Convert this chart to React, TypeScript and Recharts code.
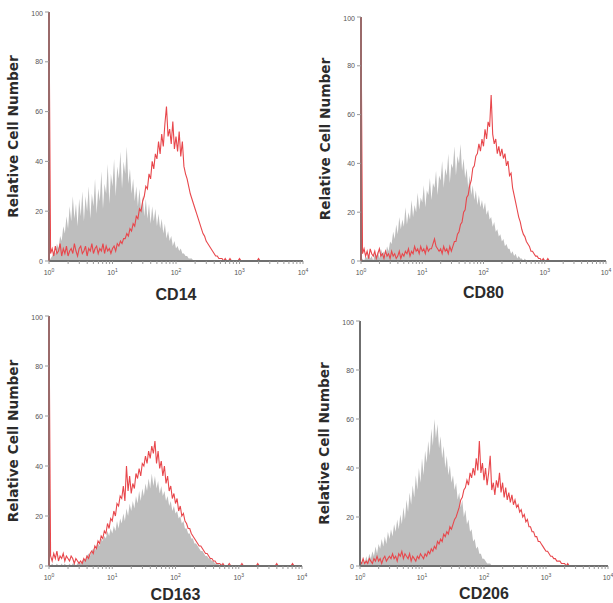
import { Area, ComposedChart, Line, XAxis, YAxis } from "recharts";

// channel positions on the log axis (10^0 .. 10^4, 0.025-decade bins)
const channels: number[] = Array.from({ length: 161 }, (_, i) => +(i * 0.025).toFixed(3));

const majorTicks = [0, 1, 2, 3, 4];
const yTicks = [0, 20, 40, 60, 80, 100];

// isotype control (grey fill) and stained sample (red line); one row = half a decade
const cd14Iso = [
  0, 1, 2, 4, 3, 7, 5, 10, 8, 14, 11, 18, 13, 22, 16, 26, 17, 23, 14, 25,
  18, 28, 16, 26, 20, 30, 17, 27, 22, 33, 19, 29, 24, 36, 21, 31, 27, 39, 23, 35,
  30, 41, 26, 38, 33, 44, 29, 40, 35, 46, 31, 37, 27, 33, 24, 30, 22, 29, 20, 26,
  18, 25, 17, 23, 15, 22, 16, 21, 14, 19, 13, 17, 11, 15, 9, 12, 8, 10, 6, 8,
  5, 6, 4, 5, 3, 3, 2, 2, 1, 1, 1, 0, 0, 0, 0, 0, 0, 0, 0, 0,
  0, 0, 0, 0, 0, 0, 0, 0, 0, 0, 0, 0, 0, 0, 0, 0, 0, 0, 0, 0,
  0, 0, 0, 0, 0, 0, 0, 0, 0, 0, 0, 0, 0, 0, 0, 0, 0, 0, 0, 0,
  0, 0, 0, 0, 0, 0, 0, 0, 0, 0, 0, 0, 0, 0, 0, 0, 0, 0, 0, 0,
  0,
];
const cd14Stain = [
  100, 3, 5, 2, 6, 3, 4, 7, 2, 5, 3, 6, 2, 4, 5, 3, 7, 4, 2, 5,
  6, 3, 4, 6, 2, 5, 4, 7, 3, 5, 6, 3, 5, 4, 7, 3, 6, 4, 5, 3,
  5, 6, 4, 7, 6, 8, 7, 9, 9, 11, 10, 13, 12, 15, 14, 18, 17, 21, 20, 24,
  26, 30, 29, 35, 33, 40, 37, 43, 41, 48, 43, 51, 46, 55, 62, 50, 53, 47, 56, 45,
  50, 44, 52, 42, 48, 38, 35, 33, 30, 27, 25, 23, 21, 19, 17, 15, 13, 11, 10, 8,
  7, 6, 5, 4, 3, 2, 2, 1, 1, 1, 0, 1, 0, 0, 1, 0, 0, 0, 0, 0,
  1, 0, 0, 0, 0, 0, 0, 0, 0, 0, 0, 0, 1, 0, 0, 0, 0, 0, 0, 0,
  0, 0, 0, 0, 0, 0, 0, 0, 0, 0, 0, 0, 0, 0, 0, 0, 0, 0, 0, 0,
  0,
];

const cd80Iso = [
  0, 1, 0, 2, 1, 3, 1, 2, 0, 3, 2, 4, 1, 5, 3, 4, 2, 6, 4, 8,
  7, 12, 9, 15, 11, 18, 13, 17, 14, 22, 15, 20, 17, 25, 18, 23, 20, 28, 21, 26,
  24, 31, 22, 29, 27, 34, 25, 32, 30, 37, 27, 35, 33, 41, 30, 38, 35, 44, 32, 40,
  38, 47, 35, 43, 40, 48, 37, 42, 34, 38, 30, 35, 27, 31, 25, 29, 23, 27, 22, 25,
  21, 24, 19, 21, 17, 18, 14, 16, 12, 13, 10, 11, 8, 9, 6, 7, 5, 5, 3, 4,
  2, 3, 1, 2, 1, 1, 0, 1, 0, 0, 0, 0, 0, 0, 0, 0, 0, 0, 0, 0,
  0, 0, 0, 0, 0, 0, 0, 0, 0, 0, 0, 0, 0, 0, 0, 0, 0, 0, 0, 0,
  0, 0, 0, 0, 0, 0, 0, 0, 0, 0, 0, 0, 0, 0, 0, 0, 0, 0, 0, 0,
  0,
];
const cd80Stain = [
  100, 3, 5, 2, 4, 1, 5, 3, 2, 4, 1, 3, 5, 2, 3, 1, 4, 2, 3, 1,
  4, 2, 3, 1, 2, 4, 1, 3, 2, 4, 3, 5, 2, 4, 3, 6, 4, 5, 3, 6,
  4, 5, 3, 6, 4, 5, 5, 7, 9, 6, 5, 4, 5, 3, 6, 4, 5, 3, 6, 4,
  6, 8, 8, 11, 12, 15, 16, 20, 21, 26, 27, 31, 33, 38, 39, 43, 44, 48, 45, 50,
  47, 54, 50, 57, 55, 68, 52, 48, 50, 44, 47, 43, 46, 42, 44, 39, 41, 35, 36, 30,
  27, 24, 21, 18, 16, 13, 11, 10, 8, 7, 6, 4, 4, 3, 2, 2, 1, 1, 0, 1,
  0, 0, 1, 0, 0, 0, 0, 0, 0, 0, 0, 0, 0, 0, 0, 0, 0, 0, 0, 0,
  0, 0, 0, 0, 0, 0, 0, 0, 0, 0, 0, 0, 0, 0, 0, 0, 0, 0, 0, 0,
  0,
];

const cd163Iso = [
  0, 0, 1, 0, 0, 1, 0, 0, 1, 0, 1, 0, 0, 1, 0, 1, 1, 0, 1, 2,
  1, 2, 3, 2, 4, 5, 4, 6, 7, 6, 8, 9, 8, 11, 10, 12, 11, 14, 12, 15,
  13, 16, 14, 18, 15, 19, 17, 21, 18, 23, 20, 25, 22, 26, 23, 28, 25, 30, 26, 31,
  28, 33, 30, 35, 31, 37, 32, 36, 31, 34, 29, 32, 28, 30, 26, 28, 24, 26, 22, 24,
  21, 22, 19, 20, 17, 18, 15, 15, 13, 13, 11, 11, 9, 9, 8, 7, 6, 6, 5, 4,
  4, 3, 3, 2, 2, 1, 1, 1, 0, 1, 0, 0, 0, 0, 0, 0, 0, 0, 0, 0,
  0, 0, 0, 0, 0, 0, 0, 0, 0, 0, 0, 0, 0, 0, 0, 0, 0, 0, 0, 0,
  0, 0, 0, 0, 0, 0, 0, 0, 0, 0, 0, 0, 0, 0, 0, 0, 0, 0, 0, 0,
  0,
];
const cd163Stain = [
  100, 4, 2, 5, 3, 6, 2, 4, 3, 5, 2, 4, 3, 2, 4, 3, 1, 3, 2, 1,
  2, 1, 3, 2, 4, 3, 5, 6, 5, 8, 7, 10, 9, 12, 11, 14, 13, 17, 15, 19,
  18, 22, 20, 25, 24, 28, 27, 32, 26, 40, 30, 36, 29, 33, 31, 37, 35, 39, 36, 41,
  40, 44, 41, 46, 43, 48, 45, 50, 41, 46, 39, 42, 36, 40, 33, 36, 30, 32, 27, 29,
  25, 27, 22, 24, 20, 21, 18, 17, 15, 15, 13, 12, 11, 10, 9, 8, 8, 7, 6, 5,
  5, 4, 3, 3, 2, 2, 1, 1, 1, 0, 1, 0, 0, 0, 1, 0, 0, 0, 0, 0,
  0, 0, 1, 0, 0, 0, 0, 0, 0, 0, 0, 0, 1, 0, 0, 0, 0, 0, 0, 0,
  0, 0, 0, 0, 1, 0, 0, 0, 0, 0, 0, 0, 0, 0, 1, 0, 0, 0, 0, 0,
  0,
];

const cd206Iso = [
  2, 1, 3, 1, 4, 2, 5, 3, 6, 4, 8, 5, 9, 7, 11, 8, 12, 9, 14, 11,
  15, 12, 17, 14, 19, 15, 21, 17, 24, 19, 27, 22, 30, 25, 33, 28, 37, 31, 40, 34,
  44, 37, 47, 42, 51, 45, 56, 49, 60, 52, 58, 48, 53, 44, 49, 40, 45, 37, 41, 34,
  37, 31, 34, 27, 30, 24, 27, 20, 23, 17, 19, 14, 15, 10, 11, 7, 8, 5, 5, 3,
  3, 2, 1, 1, 1, 0, 0, 0, 0, 0, 0, 0, 0, 0, 0, 0, 0, 0, 0, 0,
  0, 0, 0, 0, 0, 0, 0, 0, 0, 0, 0, 0, 0, 0, 0, 0, 0, 0, 0, 0,
  0, 0, 0, 0, 0, 0, 0, 0, 0, 0, 0, 0, 0, 0, 0, 0, 0, 0, 0, 0,
  0, 0, 0, 0, 0, 0, 0, 0, 0, 0, 0, 0, 0, 0, 0, 0, 0, 0, 0, 0,
  0,
];
const cd206Stain = [
  2, 1, 3, 1, 2, 1, 3, 2, 1, 3, 2, 4, 2, 3, 1, 3, 4, 2, 3, 4,
  3, 5, 3, 4, 2, 5, 4, 6, 3, 5, 4, 3, 5, 2, 4, 3, 2, 4, 3, 5,
  4, 3, 5, 4, 6, 5, 7, 6, 8, 7, 10, 9, 11, 10, 13, 12, 14, 13, 16, 15,
  17, 19, 20, 22, 24, 27, 28, 31, 32, 35, 33, 38, 36, 40, 37, 44, 39, 51, 38, 42,
  35, 40, 33, 38, 45, 31, 34, 29, 35, 32, 38, 30, 34, 28, 32, 27, 30, 26, 29, 25,
  27, 24, 25, 22, 23, 20, 21, 18, 19, 16, 16, 14, 14, 12, 12, 10, 10, 9, 8, 7,
  6, 6, 5, 4, 4, 3, 3, 2, 2, 2, 1, 1, 1, 0, 1, 0, 0, 0, 0, 0,
  0, 0, 0, 0, 0, 0, 0, 0, 0, 0, 0, 0, 0, 0, 0, 0, 0, 0, 0, 0,
  0,
];

// major + minor (2..9) tick positions for the log axis
const logTicks: number[] = [];
majorTicks.slice(0, 4).forEach((d) => {
  for (let k = 1; k <= 9; k++) logTicks.push(d + Math.log10(k));
});
logTicks.push(4);

const GREY = "#bebebe";
const RED = "#e8474c";
const AXIS = "#6f6f6f";
const AXIS_RED = "#9a6a6a"; // axis overlapped by the first-channel red spike
const SANS = "'Liberation Sans', Arial, sans-serif";

const XTick = (props: any) => {
  const { x, y, payload } = props;
  const v = payload.value;
  if (Math.abs(v - Math.round(v)) > 1e-6) return <g />;
  return (
    <text x={x} y={y + 9} textAnchor="middle" fontSize={7} fill="#555" fontFamily={SANS}>
      10
      <tspan dy={-3} fontSize={5}>
        {Math.round(v)}
      </tspan>
    </text>
  );
};

const YTick = (props: any) => {
  const { x, y, payload } = props;
  return (
    <text x={x} y={y + 2.5} textAnchor="end" fontSize={7} fill="#555" fontFamily={SANS}>
      {payload.value}
    </text>
  );
};

interface PanelProps {
  label: string;
  left: number;
  top: number;
  plotW: number;
  plotH: number;
  labelDy: number;
  yAxisColor: string;
  iso: number[];
  stain: number[];
}

const ML = 48;
const MT = 8;
const MR = 8;
const MB = 42;

function Panel({ label, left, top, plotW, plotH, labelDy, yAxisColor, iso, stain }: PanelProps) {
  const data = channels.map((x, i) => ({ x, iso: iso[i], stain: stain[i] }));
  return (
    <div style={{ position: "absolute", left: left - ML, top: top - MT }}>
      <ComposedChart
        width={ML + plotW + MR}
        height={MT + plotH + MB}
        data={data}
        margin={{ top: MT, right: MR, bottom: 0, left: 0 }}
      >
        <Area
          dataKey="iso"
          type="linear"
          fill={GREY}
          fillOpacity={1}
          stroke="none"
          isAnimationActive={false}
        />
        <Line
          dataKey="stain"
          type="linear"
          stroke={RED}
          strokeWidth={1.1}
          dot={false}
          isAnimationActive={false}
        />
        <XAxis
          dataKey="x"
          type="number"
          domain={[0, 4]}
          ticks={logTicks}
          interval={0}
          height={MB}
          tickSize={3}
          tickMargin={2}
          axisLine={{ stroke: AXIS, strokeWidth: 2 }}
          tickLine={{ stroke: "#999" }}
          tick={<XTick />}
          label={{
            content: (p: any) => {
              const vb = p.viewBox || {};
              return (
                <text
                  x={vb.x + vb.width / 2}
                  y={vb.y + labelDy}
                  textAnchor="middle"
                  fontSize={16}
                  fontWeight="bold"
                  fill="#2b2b2b"
                  fontFamily={SANS}
                >
                  {label}
                </text>
              );
            },
          }}
        />
        <YAxis
          type="number"
          domain={[0, 100]}
          ticks={yTicks}
          width={ML}
          tickSize={4}
          tickMargin={2}
          axisLine={{ stroke: yAxisColor, strokeWidth: 2 }}
          tickLine={{ stroke: "#999" }}
          tick={<YTick />}
          label={{
            content: (p: any) => {
              const vb = p.viewBox || {};
              const cx = vb.x + 17;
              const cy = vb.y + vb.height / 2;
              return (
                <text
                  x={cx}
                  y={cy}
                  transform={`rotate(-90, ${cx}, ${cy})`}
                  textAnchor="middle"
                  fontSize={13.7}
                  fontWeight="bold"
                  fill="#2b2b2b"
                  fontFamily="'DejaVu Sans', sans-serif"
                >
                  Relative Cell Number
                </text>
              );
            },
          }}
        />
      </ComposedChart>
    </div>
  );
}

export default function App() {
  return (
    <div
      style={{
        position: "absolute",
        left: 0,
        top: 0,
        width: 613,
        height: 603,
        overflow: "hidden",
        background: "#fff",
      }}
    >
      <Panel label="CD14" left={49} top={12} plotW={254} plotH={249} labelDy={39} yAxisColor={AXIS_RED} iso={cd14Iso} stain={cd14Stain} />
      <Panel label="CD80" left={361} top={17} plotW={245} plotH={244} labelDy={37} yAxisColor={AXIS_RED} iso={cd80Iso} stain={cd80Stain} />
      <Panel label="CD163" left={49} top={316} plotW={253} plotH={250} labelDy={34} yAxisColor={AXIS_RED} iso={cd163Iso} stain={cd163Stain} />
      <Panel label="CD206" left={360} top={321} plotW={248} plotH={245} labelDy={33} yAxisColor={AXIS} iso={cd206Iso} stain={cd206Stain} />
    </div>
  );
}
